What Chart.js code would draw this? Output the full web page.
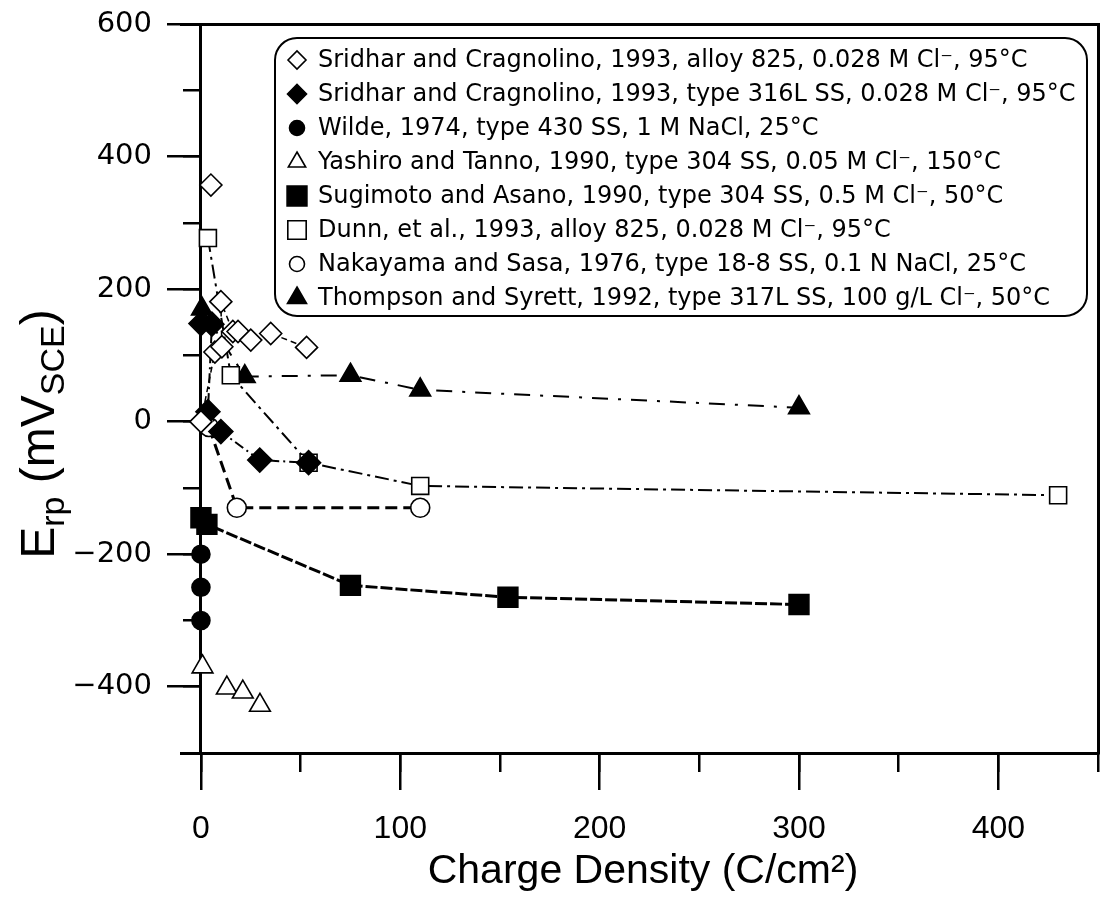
<!DOCTYPE html>
<html>
<head>
<meta charset="utf-8">
<script src="https://cdn.jsdelivr.net/npm/chart.js@4.4.0/dist/chart.umd.min.js"></script>
<style>
    html, body { margin: 0; padding: 0; background: #fff; }
    #wrap { width: 1100px; height: 907px; }
</style>
</head>
<body>
<div id="wrap"><canvas id="mycanvas" width="1100" height="907"></canvas></div>
<script>
var seriesLabels = [
    'Sridhar and Cragnolino, 1993, alloy 825, 0.028 M Cl\u207B, 95\u00B0C',
    'Sridhar and Cragnolino, 1993, type 316L SS, 0.028 M Cl\u207B, 95\u00B0C',
    'Wilde, 1974, type 430 SS, 1 M NaCl, 25\u00B0C',
    'Yashiro and Tanno, 1990, type 304 SS, 0.05 M Cl\u207B, 150\u00B0C',
    'Sugimoto and Asano, 1990, type 304 SS, 0.5 M Cl\u207B, 50\u00B0C',
    'Dunn, et al., 1993, alloy 825, 0.028 M Cl\u207B, 95\u00B0C',
    'Nakayama and Sasa, 1976, type 18-8 SS, 0.1 N NaCl, 25\u00B0C',
    'Thompson and Syrett, 1992, type 317L SS, 100 g/L Cl\u207B, 50\u00B0C'
];

// charge density (C/cm2) and Erp (mV SCE)
var sridhar825X = [5, null, 0, 7, 10.5, 10, 16, 18.6, 25, 35, 53];
var sridhar825Y = [357, null, 0, 105, 113, 181, 136, 136, 123, 133, 112];

var sridhar316X = [0, 5.5, 3.5, 10, 29.5, 54];
var sridhar316Y = [148, 147, 15, -15, -58, -62];

var wildeX = [0, 0, 0];
var wildeY = [-200, -250, -300];

var yashiroX = [0.8, 13, 21, 29.6];
var yashiroY = [-370, -402, -408, -428];

var sugimotoX = [0, 3, 75, 154, 300];
var sugimotoY = [-145, -155, -247, -265, -276];

var dunnX = [3.5, 15, 54, 110, 430];
var dunnY = [277, 70, -62, -97, -111];

var nakayamaX = [4, 18, 110];
var nakayamaY = [-8, -130, -130];

var thompsonX = [0.5, 22, 75, 110, 300];
var thompsonY = [170, 68, 70, 48, 21];

var xTicksMajor = 100, xTicksMinor = 50;
var yTicksMajor = 200, yTicksMinor = 100;


function Pairs(xs, ys)
{
    var out = [];
    for (var i = 0; i < xs.length; i++) {
        out.push({ x: xs[i], y: ys[i] });
    }
    return out;
}

function MakeSet(idx, xs, ys, style)
{
    return {
        label: seriesLabels[idx],
        data: Pairs(xs, ys),
        showLine: style.line,
        borderColor: '#000',
        borderWidth: style.lw || 2,
        borderDash: style.dash || [],
        pointStyle: style.shape,
        pointRadius: style.r,
        pointBackgroundColor: style.filled ? '#000' : '#fff',
        pointBorderColor: '#000',
        pointBorderWidth: 1.6,
        legendRadius: style.lr,
        spanGaps: false,
        fill: false
    };
}

var datasets = [
    MakeSet(0, sridhar825X, sridhar825Y, { shape: 'rectRot', r: 11, lr: 9, filled: false, line: true, lw: 1.5, dash: [6, 4] }),
    MakeSet(1, sridhar316X, sridhar316Y, { shape: 'rectRot', r: 12, lr: 9.5, filled: true, line: true, lw: 2, dash: [10, 4, 2, 4] }),
    MakeSet(2, wildeX, wildeY, { shape: 'circle', r: 9, lr: 7.5, filled: true, line: false }),
    MakeSet(3, yashiroX, yashiroY, { shape: 'triangle', r: 12, lr: 10, filled: false, line: false }),
    MakeSet(4, sugimotoX, sugimotoY, { shape: 'rect', r: 14, lr: 14, filled: true, line: true, lw: 3, dash: [12, 3] }),
    MakeSet(5, dunnX, dunnY, { shape: 'rect', r: 12, lr: 13, filled: false, line: true, lw: 2, dash: [14, 5, 3, 5] }),
    MakeSet(6, nakayamaX, nakayamaY, { shape: 'circle', r: 9.5, lr: 7.5, filled: false, line: true, lw: 3, dash: [12, 6] }),
    MakeSet(7, thompsonX, thompsonY, { shape: 'triangle', r: 12, lr: 11, filled: true, line: true, lw: 2, dash: [16, 10, 3, 10] })
];


// titles and the boxed legend
var decorPlugin = {
    id: 'decor',
    afterDraw: function (chart)
    {
        var ctx = chart.ctx;
        var area = chart.chartArea;
        ctx.save();
        ctx.fillStyle = '#000';

        // x title
        ctx.font = '41px "Liberation Sans", Arial, sans-serif';
        ctx.textAlign = 'center';
        ctx.textBaseline = 'alphabetic';
        ctx.fillText('Charge Density (C/cm\u00B2)', 643, 883);

        // y title with subscripts, rotated
        var parts = [['E', 0], ['rp', 1], [' (mV', 0], ['SCE', 1], [')', 0]];
        var big = '48px "Liberation Sans", Arial, sans-serif';
        var small = '34px "Liberation Sans", Arial, sans-serif';
        var total = 0;
        for (var i = 0; i < parts.length; i++) {
            ctx.font = parts[i][1] ? small : big;
            total += ctx.measureText(parts[i][0]).width;
        }
        ctx.translate(54, 434);
        ctx.rotate(-Math.PI / 2);
        ctx.textAlign = 'left';
        var px = -total / 2;
        for (var j = 0; j < parts.length; j++) {
            ctx.font = parts[j][1] ? small : big;
            ctx.fillText(parts[j][0], px, parts[j][1] ? 10 : 0);
            px += ctx.measureText(parts[j][0]).width;
        }
        ctx.setTransform(1, 0, 0, 1, 0, 0);

        // legend box
        var bx = 275, by = 38, bw = 812, bh = 278, rad = 22;
        ctx.beginPath();
        ctx.moveTo(bx + rad, by);
        ctx.arcTo(bx + bw, by, bx + bw, by + bh, rad);
        ctx.arcTo(bx + bw, by + bh, bx, by + bh, rad);
        ctx.arcTo(bx, by + bh, bx, by, rad);
        ctx.arcTo(bx, by, bx + bw, by, rad);
        ctx.closePath();
        ctx.fillStyle = '#fff';
        ctx.fill();
        ctx.lineWidth = 2;
        ctx.strokeStyle = '#000';
        ctx.stroke();

        ctx.font = '24px "DejaVu Sans", sans-serif';
        ctx.textAlign = 'left';
        ctx.textBaseline = 'middle';
        chart.data.datasets.forEach(function (ds, k)
        {
            var ly = 60 + k * 34;
            ctx.fillStyle = ds.pointBackgroundColor;
            ctx.strokeStyle = '#000';
            ctx.lineWidth = 1.6;
            ctx.setLineDash([]);
            Chart.helpers.drawPoint(ctx, {
                pointStyle: ds.pointStyle,
                radius: ds.legendRadius,
                rotation: 0,
                borderWidth: 1.6
            }, 297, ly);
            ctx.fillStyle = '#000';
            ctx.fillText(ds.label, 318, ly + 1);
        });
        ctx.restore();
    }
};

var tickFontX = { family: '"Liberation Sans", Arial, sans-serif', size: 32 };
var tickFontY = { family: '"DejaVu Sans", sans-serif', size: 29 };

// scales placed by value must not push the plot area around
function NoPadding(scale)
{
    scale.paddingTop = 0;
    scale.paddingBottom = 0;
    scale.paddingLeft = 0;
    scale.paddingRight = 0;
}

var allCharts = [];

function CreateGraph()
{
    var ctx = document.getElementById('mycanvas');
    var chart = new Chart(ctx, {
        type: 'scatter',
        data: { datasets: datasets },
        options: {
            responsive: false,
            animation: false,
            devicePixelRatio: 1,
            layout: { autoPadding: false, padding: { left: 51, right: 2, top: 24, bottom: 154 } },
            plugins: { legend: { display: false }, tooltip: { enabled: false } },
            scales: {
                x: {
                    type: 'linear', min: -10, max: 450, position: { y: -500 },
                    ticks: { stepSize: xTicksMajor, includeBounds: false, color: '#000', font: tickFontX, padding: 22, maxRotation: 0 },
                    grid: { drawOnChartArea: false, tickLength: 35, lineWidth: 2.5, tickColor: '#000' },
                    border: { display: true, color: '#000', width: 3 },
                    afterFit: NoPadding
                },
                xMinor: {
                    type: 'linear', axis: 'x', min: -10, max: 450, position: { y: -500 },
                    ticks: { stepSize: xTicksMinor, includeBounds: false, display: false },
                    grid: { drawOnChartArea: false, tickLength: 19, lineWidth: 2.5, tickColor: '#000' },
                    border: { display: false },
                    afterFit: NoPadding
                },
                xTop: {
                    type: 'linear', axis: 'x', min: -10, max: 450, position: { y: 600 },
                    ticks: { display: false },
                    grid: { display: false },
                    border: { display: true, color: '#000', width: 3 },
                    afterFit: NoPadding
                },
                y: {
                    type: 'linear', min: -500, max: 600, position: { x: 0 },
                    ticks: { stepSize: yTicksMajor, includeBounds: false, display: false },
                    grid: { drawOnChartArea: false, tickLength: 32, lineWidth: 2.5, tickColor: '#000' },
                    border: { display: true, color: '#000', width: 3 },
                    afterFit: NoPadding
                },
                yLabels: {
                    type: 'linear', axis: 'y', min: -500, max: 600, position: 'left',
                    ticks: {
                        stepSize: yTicksMajor, includeBounds: false, color: '#000', font: tickFontY, padding: 29,
                        callback: function (v) { return String(v).replace('-', '\u2212'); }
                    },
                    grid: { display: false, drawTicks: false },
                    border: { display: false },
                    afterFit: function (scale) { scale.width = 130; NoPadding(scale); }
                },
                yMinor: {
                    type: 'linear', axis: 'y', min: -500, max: 600, position: { x: 0 },
                    ticks: { stepSize: yTicksMinor, includeBounds: false, display: false },
                    grid: { drawOnChartArea: false, tickLength: 18, lineWidth: 2.5, tickColor: '#000' },
                    border: { display: false },
                    afterFit: NoPadding
                },
                yRight: {
                    type: 'linear', axis: 'y', min: -500, max: 600, position: { x: 450 },
                    ticks: { display: false },
                    grid: { display: false },
                    border: { display: true, color: '#000', width: 3 },
                    afterFit: NoPadding
                }
            }
        },
        plugins: [decorPlugin]
    });
    allCharts.push(chart);
}

CreateGraph();
</script>
</body>
</html>
